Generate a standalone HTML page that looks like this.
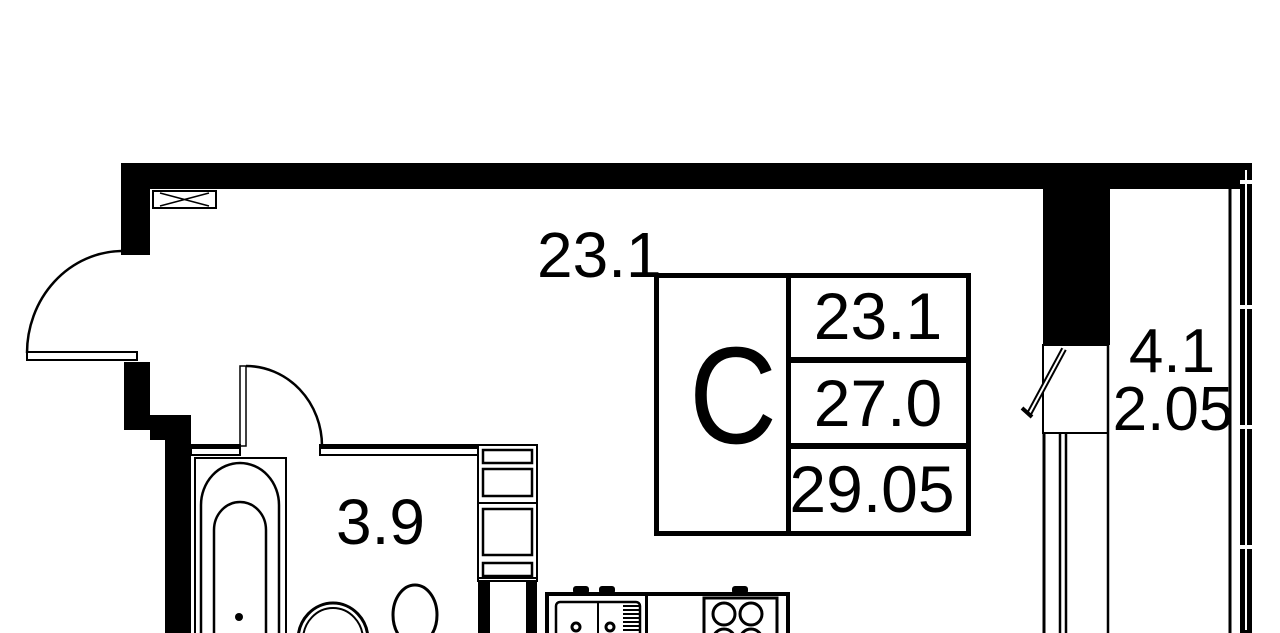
<!DOCTYPE html>
<html><head><meta charset="utf-8"><style>
html,body{margin:0;padding:0;background:#fff;}
svg{display:block;}
text{font-family:"Liberation Sans",sans-serif;fill:#000;}
</style></head><body>
<svg width="1280" height="633" viewBox="0 0 1280 633" xmlns="http://www.w3.org/2000/svg">
<rect width="1280" height="633" fill="#fff"/>
<!-- top wall -->
<rect x="121" y="163" width="1119" height="26" fill="#000"/>
<rect x="121" y="163" width="29" height="92" fill="#000"/>
<!-- vent -->
<rect x="153" y="191" width="63" height="17" fill="none" stroke="#000" stroke-width="2"/>
<path d="M160 193 L209 206 M160 206 L209 193" stroke="#000" stroke-width="1.5"/>
<!-- entrance door -->
<path d="M121 251 A96 102 0 0 0 27 353" fill="none" stroke="#000" stroke-width="2.5"/>
<rect x="27" y="352" width="110" height="8" fill="none" stroke="#000" stroke-width="2"/>
<!-- lower left wall -->
<rect x="121" y="362" width="29" height="68" fill="#000"/>
<rect x="121" y="362" width="3" height="68" fill="#fff"/>
<rect x="150" y="415" width="41" height="25" fill="#000"/>
<rect x="165" y="415" width="26" height="218" fill="#000"/>
<!-- bathroom door -->
<rect x="240" y="366" width="6" height="80" fill="none" stroke="#000" stroke-width="1.5"/>
<path d="M246 366 A76 80 0 0 1 322 446" fill="none" stroke="#000" stroke-width="2.5"/>
<!-- bathroom top partition -->
<rect x="191" y="445" width="49" height="10" fill="none" stroke="#000" stroke-width="2"/>
<rect x="191" y="445" width="49" height="4" fill="#000"/>
<rect x="320" y="445" width="158" height="10" fill="none" stroke="#000" stroke-width="2"/>
<rect x="320" y="445" width="158" height="4" fill="#000"/>
<!-- cabinet column -->
<rect x="478" y="445" width="59" height="136" fill="none" stroke="#000" stroke-width="2"/>
<rect x="483" y="450" width="49" height="13" fill="none" stroke="#000" stroke-width="2.5"/>
<rect x="483" y="469" width="49" height="27" fill="none" stroke="#000" stroke-width="2.5"/>
<rect x="478" y="503" width="59" height="75" fill="none" stroke="#000" stroke-width="2"/>
<rect x="483" y="509" width="49" height="46" fill="none" stroke="#000" stroke-width="2.5"/>
<rect x="483" y="563" width="49" height="13" fill="none" stroke="#000" stroke-width="2.5"/>
<rect x="478" y="582" width="12" height="51" fill="#000"/>
<rect x="526" y="582" width="11" height="51" fill="#000"/>
<!-- bathtub -->
<rect x="195" y="458" width="91" height="180" fill="none" stroke="#000" stroke-width="2"/>
<path d="M201 640 L201 505 A39 42 0 0 1 279 505 L279 640" fill="none" stroke="#000" stroke-width="2.5"/>
<path d="M214 640 L214 530 A26 28 0 0 1 266 530 L266 640" fill="none" stroke="#000" stroke-width="2.5"/>
<circle cx="239" cy="617" r="4" fill="#000"/>
<!-- 3.9 -->
<text x="336" y="544" font-size="64">3.9</text>
<!-- sink and toilet -->
<path d="M298 640 A35 37 0 0 1 368 640" fill="none" stroke="#000" stroke-width="3"/>
<path d="M303 640 A30 32 0 0 1 363 640" fill="none" stroke="#000" stroke-width="2"/>
<ellipse cx="415" cy="615" rx="22" ry="30" fill="none" stroke="#000" stroke-width="3"/>
<!-- kitchen -->
<rect x="547" y="594" width="241" height="50" fill="none" stroke="#000" stroke-width="4"/>
<rect x="645" y="594" width="3" height="50" fill="#000"/>
<rect x="573" y="586" width="16" height="8" rx="3" fill="#000"/>
<rect x="599" y="586" width="16" height="8" rx="3" fill="#000"/>
<rect x="732" y="586" width="16" height="8" rx="3" fill="#000"/>
<rect x="556" y="602" width="84" height="40" rx="4" fill="none" stroke="#000" stroke-width="2.5"/>
<line x1="598" y1="602" x2="598" y2="640" stroke="#000" stroke-width="2"/>
<circle cx="576" cy="627" r="4" fill="none" stroke="#000" stroke-width="3"/>
<circle cx="610" cy="627" r="4" fill="none" stroke="#000" stroke-width="3"/>
<path d="M623 606 H639 M623 610 H639 M623 614 H639 M623 618 H639 M623 622 H639 M623 626 H639 M623 630 H639" stroke="#000" stroke-width="2"/>
<rect x="704" y="598" width="73" height="44" fill="none" stroke="#000" stroke-width="3"/>
<circle cx="724" cy="614" r="11" fill="none" stroke="#000" stroke-width="3"/>
<circle cx="751" cy="614" r="11" fill="none" stroke="#000" stroke-width="3"/>
<circle cx="724" cy="640" r="11" fill="none" stroke="#000" stroke-width="3"/>
<circle cx="751" cy="640" r="11" fill="none" stroke="#000" stroke-width="3"/>
<!-- labels -->
<text x="537" y="277" font-size="64">23.1</text>
<!-- area box -->
<rect x="656.5" y="275.5" width="312" height="258" fill="none" stroke="#000" stroke-width="5"/>
<rect x="786" y="275" width="5" height="260" fill="#000"/>
<rect x="786" y="357" width="184" height="6" fill="#000"/>
<rect x="786" y="443" width="184" height="6" fill="#000"/>
<text x="689" y="443" font-size="138" textLength="88" lengthAdjust="spacingAndGlyphs">C</text>
<text x="878" y="339" font-size="66" text-anchor="middle">23.1</text>
<text x="878" y="426" font-size="66" text-anchor="middle">27.0</text>
<text x="872" y="512" font-size="66" text-anchor="middle">29.05</text>
<!-- right column -->
<rect x="1043" y="163" width="67" height="182" fill="#000"/>
<rect x="1043" y="345" width="65" height="88" fill="none" stroke="#000" stroke-width="2"/>
<line x1="1044" y1="433" x2="1044" y2="633" stroke="#000" stroke-width="3"/>
<line x1="1060" y1="433" x2="1060" y2="633" stroke="#000" stroke-width="2.5"/>
<line x1="1066" y1="433" x2="1066" y2="633" stroke="#000" stroke-width="2.5"/>
<line x1="1108" y1="189" x2="1108" y2="633" stroke="#000" stroke-width="2.5"/>
<path d="M1064 349 L1029 414" stroke="#000" stroke-width="6"/>
<path d="M1064 349 L1029 414" stroke="#fff" stroke-width="2"/>
<path d="M1022 408 L1032 417" stroke="#000" stroke-width="4"/>
<line x1="1230" y1="189" x2="1230" y2="633" stroke="#000" stroke-width="3"/>
<rect x="1240" y="163" width="12" height="470" fill="#000"/>
<line x1="1246" y1="170" x2="1246" y2="630" stroke="#fff" stroke-width="2"/>
<rect x="1240" y="305" width="12" height="4" fill="#fff"/>
<rect x="1240" y="425" width="12" height="4" fill="#fff"/>
<rect x="1240" y="545" width="12" height="4" fill="#fff"/>
<rect x="1240" y="180" width="12" height="4" fill="#fff"/>
<text x="1172" y="372" font-size="62" text-anchor="middle">4.1</text>
<text x="1173" y="430" font-size="62" text-anchor="middle">2.05</text>
</svg>
</body></html>
